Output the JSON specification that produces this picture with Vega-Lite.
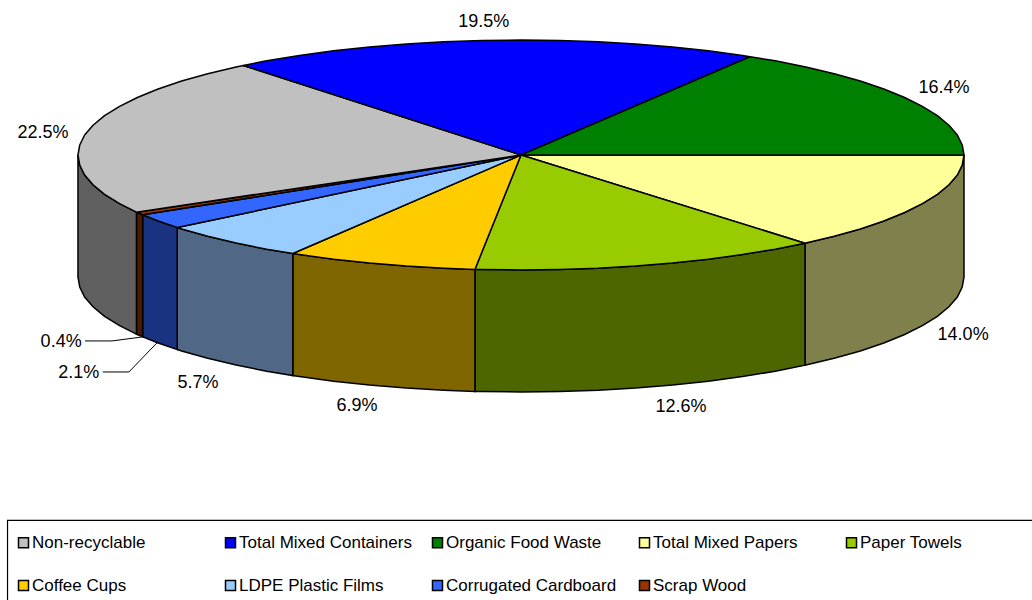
{
"$schema":"https://vega.github.io/schema/vega-lite/v6.json",
"width":1032,"height":600,"padding":0,"autosize":{"type":"none"},
"background":"white",
"datasets":{
"frame":[{"left":-1.159,"right":1.3,"upper":3.178,"lower":4.2}],
"walls":[
{"slice":"Total Mixed Papers","x":1,"top":0,"bottom":1.061},
{"slice":"Total Mixed Papers","x":0.996,"top":0.087,"bottom":1.148},
{"slice":"Total Mixed Papers","x":0.985,"top":0.174,"bottom":1.235},
{"slice":"Total Mixed Papers","x":0.966,"top":0.259,"bottom":1.32},
{"slice":"Total Mixed Papers","x":0.94,"top":0.342,"bottom":1.403},
{"slice":"Total Mixed Papers","x":0.906,"top":0.423,"bottom":1.484},
{"slice":"Total Mixed Papers","x":0.866,"top":0.5,"bottom":1.561},
{"slice":"Total Mixed Papers","x":0.819,"top":0.574,"bottom":1.635},
{"slice":"Total Mixed Papers","x":0.766,"top":0.643,"bottom":1.704},
{"slice":"Total Mixed Papers","x":0.707,"top":0.707,"bottom":1.768},
{"slice":"Total Mixed Papers","x":0.643,"top":0.766,"bottom":1.827},
{"slice":"Total Mixed Papers","x":0.641,"top":0.767,"bottom":1.828},
{"slice":"Paper Towels","x":0.641,"top":0.767,"bottom":1.828},
{"slice":"Paper Towels","x":0.574,"top":0.819,"bottom":1.88},
{"slice":"Paper Towels","x":0.5,"top":0.866,"bottom":1.927},
{"slice":"Paper Towels","x":0.423,"top":0.906,"bottom":1.967},
{"slice":"Paper Towels","x":0.342,"top":0.94,"bottom":2.001},
{"slice":"Paper Towels","x":0.259,"top":0.966,"bottom":2.027},
{"slice":"Paper Towels","x":0.174,"top":0.985,"bottom":2.046},
{"slice":"Paper Towels","x":0.087,"top":0.996,"bottom":2.057},
{"slice":"Paper Towels","x":0,"top":1,"bottom":2.061},
{"slice":"Paper Towels","x":-0.087,"top":0.996,"bottom":2.057},
{"slice":"Paper Towels","x":-0.104,"top":0.995,"bottom":2.056},
{"slice":"Coffee Cups","x":-0.104,"top":0.995,"bottom":2.056},
{"slice":"Coffee Cups","x":-0.174,"top":0.985,"bottom":2.046},
{"slice":"Coffee Cups","x":-0.259,"top":0.966,"bottom":2.027},
{"slice":"Coffee Cups","x":-0.342,"top":0.94,"bottom":2.001},
{"slice":"Coffee Cups","x":-0.423,"top":0.906,"bottom":1.967},
{"slice":"Coffee Cups","x":-0.5,"top":0.866,"bottom":1.927},
{"slice":"Coffee Cups","x":-0.515,"top":0.857,"bottom":1.918},
{"slice":"LDPE Plastic Films","x":-0.515,"top":0.857,"bottom":1.918},
{"slice":"LDPE Plastic Films","x":-0.574,"top":0.819,"bottom":1.88},
{"slice":"LDPE Plastic Films","x":-0.643,"top":0.766,"bottom":1.827},
{"slice":"LDPE Plastic Films","x":-0.707,"top":0.707,"bottom":1.768},
{"slice":"LDPE Plastic Films","x":-0.766,"top":0.643,"bottom":1.704},
{"slice":"LDPE Plastic Films","x":-0.776,"top":0.631,"bottom":1.692},
{"slice":"Corrugated Cardboard","x":-0.776,"top":0.631,"bottom":1.692},
{"slice":"Corrugated Cardboard","x":-0.819,"top":0.574,"bottom":1.635},
{"slice":"Corrugated Cardboard","x":-0.854,"top":0.52,"bottom":1.581},
{"slice":"Scrap Wood","x":-0.854,"top":0.52,"bottom":1.581},
{"slice":"Scrap Wood","x":-0.866,"top":0.5,"bottom":1.561},
{"slice":"Scrap Wood","x":-0.868,"top":0.497,"bottom":1.558},
{"slice":"Non-recyclable","x":-0.868,"top":0.497,"bottom":1.558},
{"slice":"Non-recyclable","x":-0.906,"top":0.423,"bottom":1.484},
{"slice":"Non-recyclable","x":-0.94,"top":0.342,"bottom":1.403},
{"slice":"Non-recyclable","x":-0.966,"top":0.259,"bottom":1.32},
{"slice":"Non-recyclable","x":-0.985,"top":0.174,"bottom":1.235},
{"slice":"Non-recyclable","x":-0.996,"top":0.087,"bottom":1.148},
{"slice":"Non-recyclable","x":-1,"top":0,"bottom":1.061}
],
"tops":[
{"slice":"Total Mixed Papers","i":0,"x":0,"y":0},
{"slice":"Total Mixed Papers","i":1,"x":1,"y":0},
{"slice":"Total Mixed Papers","i":2,"x":0.996,"y":0.087},
{"slice":"Total Mixed Papers","i":3,"x":0.985,"y":0.174},
{"slice":"Total Mixed Papers","i":4,"x":0.966,"y":0.259},
{"slice":"Total Mixed Papers","i":5,"x":0.94,"y":0.342},
{"slice":"Total Mixed Papers","i":6,"x":0.906,"y":0.423},
{"slice":"Total Mixed Papers","i":7,"x":0.866,"y":0.5},
{"slice":"Total Mixed Papers","i":8,"x":0.819,"y":0.574},
{"slice":"Total Mixed Papers","i":9,"x":0.766,"y":0.643},
{"slice":"Total Mixed Papers","i":10,"x":0.707,"y":0.707},
{"slice":"Total Mixed Papers","i":11,"x":0.643,"y":0.766},
{"slice":"Total Mixed Papers","i":12,"x":0.641,"y":0.767},
{"slice":"Total Mixed Papers","i":13,"x":0,"y":0},
{"slice":"Paper Towels","i":0,"x":0,"y":0},
{"slice":"Paper Towels","i":1,"x":0.641,"y":0.767},
{"slice":"Paper Towels","i":2,"x":0.574,"y":0.819},
{"slice":"Paper Towels","i":3,"x":0.5,"y":0.866},
{"slice":"Paper Towels","i":4,"x":0.423,"y":0.906},
{"slice":"Paper Towels","i":5,"x":0.342,"y":0.94},
{"slice":"Paper Towels","i":6,"x":0.259,"y":0.966},
{"slice":"Paper Towels","i":7,"x":0.174,"y":0.985},
{"slice":"Paper Towels","i":8,"x":0.087,"y":0.996},
{"slice":"Paper Towels","i":9,"x":0,"y":1},
{"slice":"Paper Towels","i":10,"x":-0.087,"y":0.996},
{"slice":"Paper Towels","i":11,"x":-0.104,"y":0.995},
{"slice":"Paper Towels","i":12,"x":0,"y":0},
{"slice":"Coffee Cups","i":0,"x":0,"y":0},
{"slice":"Coffee Cups","i":1,"x":-0.104,"y":0.995},
{"slice":"Coffee Cups","i":2,"x":-0.174,"y":0.985},
{"slice":"Coffee Cups","i":3,"x":-0.259,"y":0.966},
{"slice":"Coffee Cups","i":4,"x":-0.342,"y":0.94},
{"slice":"Coffee Cups","i":5,"x":-0.423,"y":0.906},
{"slice":"Coffee Cups","i":6,"x":-0.5,"y":0.866},
{"slice":"Coffee Cups","i":7,"x":-0.515,"y":0.857},
{"slice":"Coffee Cups","i":8,"x":0,"y":0},
{"slice":"LDPE Plastic Films","i":0,"x":0,"y":0},
{"slice":"LDPE Plastic Films","i":1,"x":-0.515,"y":0.857},
{"slice":"LDPE Plastic Films","i":2,"x":-0.574,"y":0.819},
{"slice":"LDPE Plastic Films","i":3,"x":-0.643,"y":0.766},
{"slice":"LDPE Plastic Films","i":4,"x":-0.707,"y":0.707},
{"slice":"LDPE Plastic Films","i":5,"x":-0.766,"y":0.643},
{"slice":"LDPE Plastic Films","i":6,"x":-0.776,"y":0.631},
{"slice":"LDPE Plastic Films","i":7,"x":0,"y":0},
{"slice":"Corrugated Cardboard","i":0,"x":0,"y":0},
{"slice":"Corrugated Cardboard","i":1,"x":-0.776,"y":0.631},
{"slice":"Corrugated Cardboard","i":2,"x":-0.819,"y":0.574},
{"slice":"Corrugated Cardboard","i":3,"x":-0.854,"y":0.52},
{"slice":"Corrugated Cardboard","i":4,"x":0,"y":0},
{"slice":"Scrap Wood","i":0,"x":0,"y":0},
{"slice":"Scrap Wood","i":1,"x":-0.854,"y":0.52},
{"slice":"Scrap Wood","i":2,"x":-0.866,"y":0.5},
{"slice":"Scrap Wood","i":3,"x":-0.868,"y":0.497},
{"slice":"Scrap Wood","i":4,"x":0,"y":0},
{"slice":"Non-recyclable","i":0,"x":0,"y":0},
{"slice":"Non-recyclable","i":1,"x":-0.868,"y":0.497},
{"slice":"Non-recyclable","i":2,"x":-0.906,"y":0.423},
{"slice":"Non-recyclable","i":3,"x":-0.94,"y":0.342},
{"slice":"Non-recyclable","i":4,"x":-0.966,"y":0.259},
{"slice":"Non-recyclable","i":5,"x":-0.985,"y":0.174},
{"slice":"Non-recyclable","i":6,"x":-0.996,"y":0.087},
{"slice":"Non-recyclable","i":7,"x":-1,"y":0},
{"slice":"Non-recyclable","i":8,"x":-0.996,"y":-0.087},
{"slice":"Non-recyclable","i":9,"x":-0.985,"y":-0.174},
{"slice":"Non-recyclable","i":10,"x":-0.966,"y":-0.259},
{"slice":"Non-recyclable","i":11,"x":-0.94,"y":-0.342},
{"slice":"Non-recyclable","i":12,"x":-0.906,"y":-0.423},
{"slice":"Non-recyclable","i":13,"x":-0.866,"y":-0.5},
{"slice":"Non-recyclable","i":14,"x":-0.819,"y":-0.574},
{"slice":"Non-recyclable","i":15,"x":-0.766,"y":-0.643},
{"slice":"Non-recyclable","i":16,"x":-0.707,"y":-0.707},
{"slice":"Non-recyclable","i":17,"x":-0.643,"y":-0.766},
{"slice":"Non-recyclable","i":18,"x":-0.627,"y":-0.779},
{"slice":"Non-recyclable","i":19,"x":0,"y":0},
{"slice":"Total Mixed Containers","i":0,"x":0,"y":0},
{"slice":"Total Mixed Containers","i":1,"x":-0.627,"y":-0.779},
{"slice":"Total Mixed Containers","i":2,"x":-0.574,"y":-0.819},
{"slice":"Total Mixed Containers","i":3,"x":-0.5,"y":-0.866},
{"slice":"Total Mixed Containers","i":4,"x":-0.423,"y":-0.906},
{"slice":"Total Mixed Containers","i":5,"x":-0.342,"y":-0.94},
{"slice":"Total Mixed Containers","i":6,"x":-0.259,"y":-0.966},
{"slice":"Total Mixed Containers","i":7,"x":-0.174,"y":-0.985},
{"slice":"Total Mixed Containers","i":8,"x":-0.087,"y":-0.996},
{"slice":"Total Mixed Containers","i":9,"x":0,"y":-1},
{"slice":"Total Mixed Containers","i":10,"x":0.087,"y":-0.996},
{"slice":"Total Mixed Containers","i":11,"x":0.174,"y":-0.985},
{"slice":"Total Mixed Containers","i":12,"x":0.259,"y":-0.966},
{"slice":"Total Mixed Containers","i":13,"x":0.342,"y":-0.94},
{"slice":"Total Mixed Containers","i":14,"x":0.423,"y":-0.906},
{"slice":"Total Mixed Containers","i":15,"x":0.5,"y":-0.866},
{"slice":"Total Mixed Containers","i":16,"x":0.517,"y":-0.855},
{"slice":"Total Mixed Containers","i":17,"x":0,"y":0},
{"slice":"Organic Food Waste","i":0,"x":0,"y":0},
{"slice":"Organic Food Waste","i":1,"x":0.517,"y":-0.855},
{"slice":"Organic Food Waste","i":2,"x":0.574,"y":-0.819},
{"slice":"Organic Food Waste","i":3,"x":0.643,"y":-0.766},
{"slice":"Organic Food Waste","i":4,"x":0.707,"y":-0.707},
{"slice":"Organic Food Waste","i":5,"x":0.766,"y":-0.643},
{"slice":"Organic Food Waste","i":6,"x":0.819,"y":-0.574},
{"slice":"Organic Food Waste","i":7,"x":0.866,"y":-0.5},
{"slice":"Organic Food Waste","i":8,"x":0.906,"y":-0.423},
{"slice":"Organic Food Waste","i":9,"x":0.94,"y":-0.342},
{"slice":"Organic Food Waste","i":10,"x":0.966,"y":-0.259},
{"slice":"Organic Food Waste","i":11,"x":0.985,"y":-0.174},
{"slice":"Organic Food Waste","i":12,"x":0.996,"y":-0.087},
{"slice":"Organic Food Waste","i":13,"x":1,"y":0},
{"slice":"Organic Food Waste","i":14,"x":0,"y":0}
],
"labels":[
{"slice":"Non-recyclable","share":"22.5%","x":-1.079,"y":-0.2},
{"slice":"Total Mixed Containers","share":"19.5%","x":-0.084,"y":-1.165},
{"slice":"Organic Food Waste","share":"16.4%","x":0.955,"y":-0.591},
{"slice":"Total Mixed Papers","share":"14.0%","x":0.998,"y":1.557},
{"slice":"Paper Towels","share":"12.6%","x":0.361,"y":2.183},
{"slice":"Coffee Cups","share":"6.9%","x":-0.37,"y":2.174},
{"slice":"LDPE Plastic Films","share":"5.7%","x":-0.729,"y":1.974},
{"slice":"Corrugated Cardboard","share":"2.1%","x":-0.998,"y":1.887},
{"slice":"Scrap Wood","share":"0.4%","x":-1.038,"y":1.617}
],
"leaders":[
{"slice":"Scrap Wood","i":0,"x":-0.984,"y":1.617},
{"slice":"Scrap Wood","i":1,"x":-0.923,"y":1.617},
{"slice":"Scrap Wood","i":2,"x":-0.856,"y":1.583},
{"slice":"Corrugated Cardboard","i":0,"x":-0.944,"y":1.887},
{"slice":"Corrugated Cardboard","i":1,"x":-0.885,"y":1.887},
{"slice":"Corrugated Cardboard","i":2,"x":-0.822,"y":1.635}
]
},
"layer":[
{"data":{"name":"walls"},
 "mark":{"type":"area","stroke":"black","strokeWidth":1.5,"opacity":1},
 "encoding":{
  "x":{"field":"x","type":"quantitative","scale":{"domain":[-1.176,1.1535],"nice":false,"zero":false},"axis":null},
  "y":{"field":"top","type":"quantitative","scale":{"domain":[-1.348,3.87],"reverse":true,"nice":false,"zero":false},"axis":null},
  "y2":{"field":"bottom"},
  "color":{"field":"slice","type":"nominal","legend":null,"scale":{
    "domain":["Non-recyclable","Total Mixed Papers","Paper Towels","Coffee Cups","LDPE Plastic Films","Corrugated Cardboard","Scrap Wood"],
    "range":["#606060","#80804D","#4D6600","#806600","#506885","#1A3380","#4D1A00"]}}
 }},
{"data":{"name":"tops"},
 "mark":{"type":"line","stroke":"black","strokeWidth":1.5,"strokeJoin":"round"},
 "encoding":{
  "x":{"field":"x","type":"quantitative"},
  "y":{"field":"y","type":"quantitative"},
  "order":{"field":"i","type":"quantitative"},
  "fill":{"field":"slice","type":"nominal","scale":{
    "domain":["Non-recyclable","Coffee Cups","Total Mixed Containers","LDPE Plastic Films","Organic Food Waste","Corrugated Cardboard","Total Mixed Papers","Scrap Wood","Paper Towels"],
    "range":["#C0C0C0","#FFCC00","#0000FF","#99CCFF","#008000","#3366FF","#FFFF99","#993300","#99CC00"]},
   "legend":{"title":null,"orient":"none","legendX":7,"legendY":520,"columns":5,"gridAlign":"all","columnPadding":17,"rowPadding":25,"padding":14,"symbolOffset":-6,
     "symbolType":"square","symbolSize":100,"symbolStrokeColor":"black","symbolStrokeWidth":1.5,"symbolOpacity":1,
     "labelFont":"Liberation Sans","labelFontSize":17,"labelColor":"black","labelOffset":0,"labelLimit":400}}
 }},
{"data":{"name":"leaders"},
 "mark":{"type":"line","stroke":"black","strokeWidth":1},
 "encoding":{
  "x":{"field":"x","type":"quantitative"},
  "y":{"field":"y","type":"quantitative"},
  "detail":{"field":"slice"},
  "order":{"field":"i","type":"quantitative"}
 }},
{"data":{"name":"labels"},
 "mark":{"type":"text","font":"Liberation Sans","fontSize":18,"color":"black","align":"center","baseline":"middle","dy":1},
 "encoding":{
  "x":{"field":"x","type":"quantitative"},
  "y":{"field":"y","type":"quantitative"},
  "text":{"field":"share"}
 }},
{"data":{"name":"frame"},
 "mark":{"type":"rect","fillOpacity":0,"stroke":"black","strokeWidth":1.2},
 "encoding":{
  "x":{"field":"left","type":"quantitative"},
  "x2":{"field":"right"},
  "y":{"field":"upper","type":"quantitative"},
  "y2":{"field":"lower"}
 }}
],
"resolve":{"scale":{"color":"independent","fill":"independent"}},
"config":{"view":{"stroke":null}}
}
